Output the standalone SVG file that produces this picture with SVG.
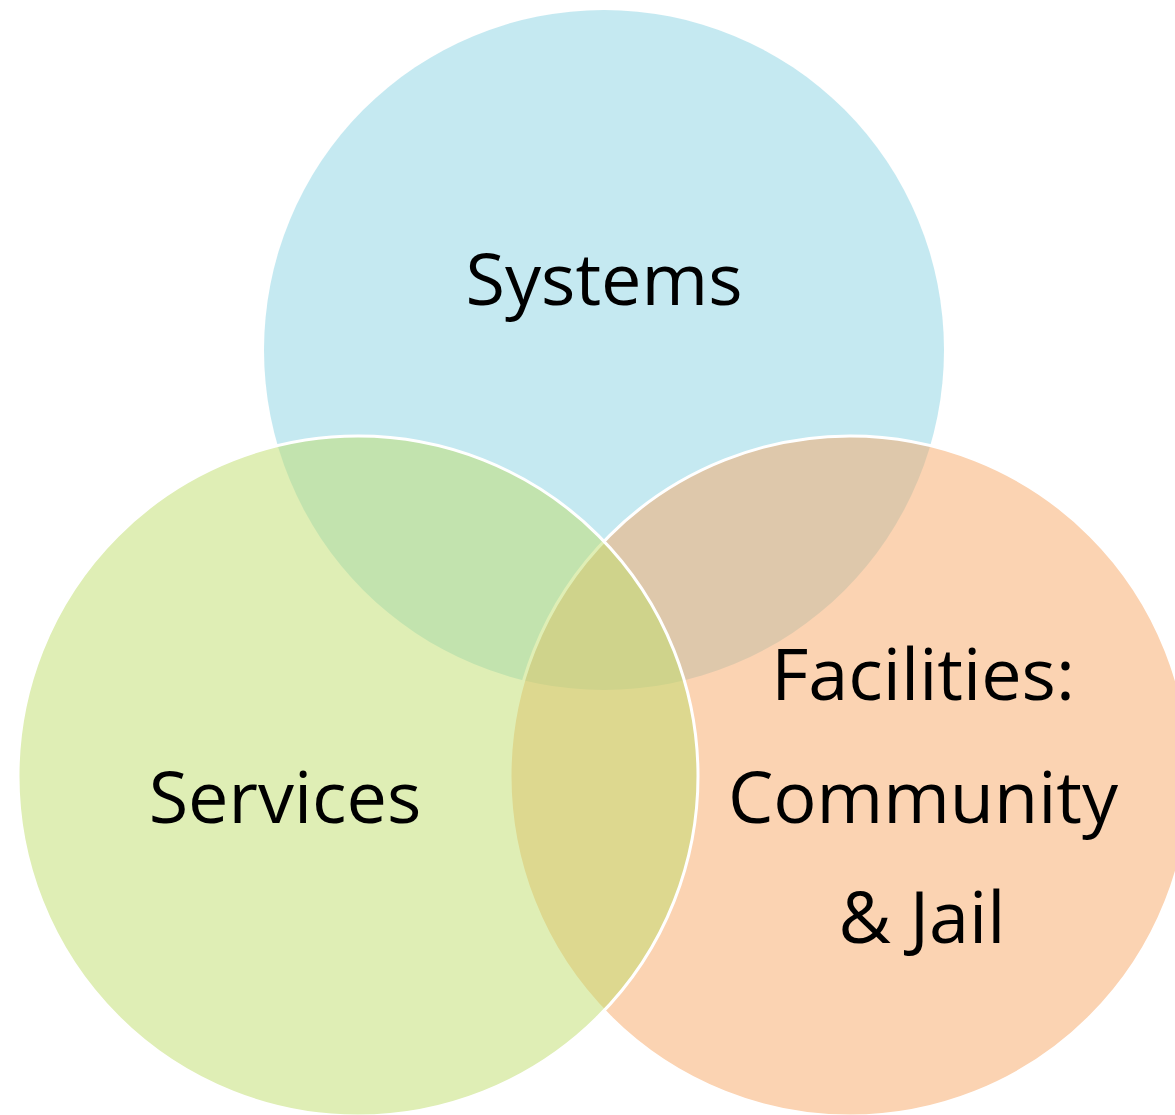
<svg xmlns="http://www.w3.org/2000/svg" width="1175" height="1115" viewBox="0 0 1175 1115">
<style>
.c{fill-opacity:0.5;stroke:#ffffff;stroke-width:3}
.t{font-family:"Open Sans","Noto Sans",sans-serif;font-size:72px;fill:#000000;text-anchor:middle}
</style>
<rect width="1175" height="1115" fill="#ffffff"/>
<g id="systems">
<circle cx="604" cy="350" r="340" fill="#8bd3e3" fill-opacity="0.5"/>
<text class="t" x="604" y="305">Systems</text>
</g>
<g id="facilities">
<circle class="c" cx="850" cy="776" r="340" fill="#f7a765"/>
<text class="t" x="923" y="700">Facilities:</text>
<text class="t" x="923" y="823">Community</text>
<text class="t" x="922" y="943">&amp; Jail</text>
</g>
<g id="services">
<circle class="c" cx="358" cy="776" r="340" fill="#bfdd6b"/>
<text class="t" x="285" y="823">Services</text>
</g>
<g id="connectors"></g>
</svg>
